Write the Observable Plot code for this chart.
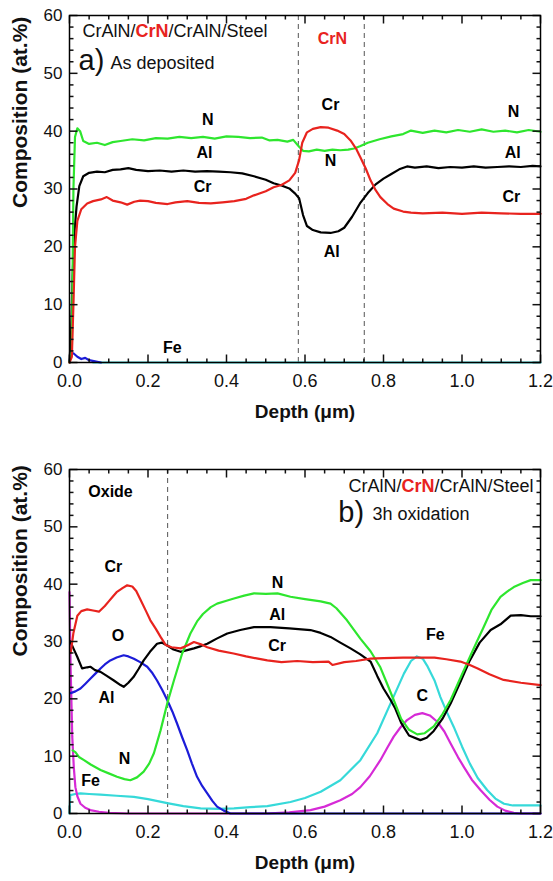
<!DOCTYPE html>
<html><head><meta charset="utf-8">
<script src="https://cdn.jsdelivr.net/npm/d3@7"></script>
<script src="https://cdn.jsdelivr.net/npm/@observablehq/plot@0.6"></script>
<style>
body{margin:0;background:#fff;}
#wrap{position:relative;width:553px;height:881px;overflow:hidden;}
#a{position:absolute;left:0;top:0}
#b{position:absolute;left:0;top:441px}
</style></head><body><div id="wrap"><div id="a"></div><div id="b"></div></div>
<script>
// ---------- DATA: panel a) As deposited  [depth (µm), composition (at.%)] ----------
const aN = [[0,0],[0.006,2],[0.01,30],[0.014,39],[0.02,40.5],[0.027,40],[0.035,38.3],[0.05,37.8],[0.07,38.0],[0.09,37.6],[0.11,38.1],[0.13,38.3],[0.16,38.6],[0.19,38.4],[0.22,38.8],[0.25,38.7],[0.28,39],[0.31,38.8],[0.34,39],[0.37,38.7],[0.40,39.1],[0.43,39],[0.46,38.8],[0.49,38.9],[0.51,38.4],[0.53,38.5],[0.555,38.2],[0.57,38.5],[0.585,37.3],[0.595,36.6],[0.61,36.5],[0.63,36.8],[0.65,36.6],[0.67,36.8],[0.69,36.7],[0.71,36.8],[0.725,37],[0.74,37.4],[0.76,38],[0.79,38.6],[0.82,39.1],[0.85,39.5],[0.87,40.1],[0.9,39.7],[0.93,40.1],[0.96,39.8],[0.99,40.2],[1.02,39.9],[1.05,40.3],[1.08,39.9],[1.11,40.1],[1.14,39.8],[1.17,40.2],[1.2,39.9]];
const aAl = [[0,0],[0.004,5],[0.008,15],[0.012,22],[0.018,27],[0.025,30.5],[0.035,32.2],[0.05,32.8],[0.07,33],[0.09,32.9],[0.11,33.3],[0.13,33.4],[0.15,33.6],[0.17,33.3],[0.2,33.1],[0.23,33.2],[0.26,33],[0.29,33.2],[0.32,33],[0.35,33.1],[0.38,33],[0.41,32.9],[0.44,32.7],[0.47,32.2],[0.5,31.6],[0.52,31],[0.54,30.6],[0.56,30.1],[0.575,29.2],[0.585,28.4],[0.595,25.5],[0.605,23.6],[0.62,22.9],[0.64,22.5],[0.665,22.4],[0.685,22.7],[0.7,23.3],[0.72,25.2],[0.74,27.5],[0.76,29.3],[0.78,30.8],[0.8,31.8],[0.82,32.6],[0.84,33.4],[0.86,33.9],[0.88,33.7],[0.91,33.9],[0.94,33.6],[0.97,33.8],[1.0,33.7],[1.03,33.9],[1.06,33.7],[1.09,33.8],[1.12,33.9],[1.15,33.8],[1.18,34],[1.2,33.9]];
const aCr = [[0,0],[0.006,1],[0.01,10],[0.014,20],[0.02,24.5],[0.03,26.5],[0.045,27.5],[0.06,27.9],[0.08,28.2],[0.095,28.6],[0.11,28],[0.13,27.7],[0.147,27.3],[0.165,27.8],[0.18,28],[0.2,27.9],[0.22,27.6],[0.25,27.4],[0.27,27.7],[0.3,27.9],[0.33,27.6],[0.36,27.5],[0.39,27.7],[0.42,27.9],[0.45,28.3],[0.47,28.9],[0.5,29.6],[0.52,30.3],[0.54,30.7],[0.56,31.5],[0.575,32.8],[0.585,35],[0.593,38],[0.605,39.8],[0.62,40.4],[0.64,40.7],[0.66,40.6],[0.682,40.1],[0.7,39.5],[0.716,38.4],[0.73,37],[0.741,35.5],[0.755,33.5],[0.767,31.5],[0.78,29.8],[0.792,28.6],[0.81,27.4],[0.826,26.6],[0.85,26.1],[0.87,25.9],[0.9,25.8],[0.95,25.9],[1.0,25.7],[1.05,25.9],[1.1,25.8],[1.15,25.7],[1.2,25.7]];
const aFeSurf = [[0,0],[0.003,1.5],[0.01,1.6],[0.02,1],[0.03,0.6],[0.04,0.8],[0.05,0.4],[0.065,0.2],[0.08,0]];
const aFe = [[0.06,0],[1.2,0]];
const aInterfaces = [0.583, 0.751];
const aLabels = [
  {t:"N", x:0.352, y:41.0},{t:"Al", x:0.344, y:35.3},{t:"Cr", x:0.339, y:29.4},
  {t:"Cr", x:0.665, y:43.6},{t:"N", x:0.665, y:33.9},{t:"Al", x:0.668, y:18.3},
  {t:"N", x:1.131, y:42.4},{t:"Al", x:1.129, y:35.4},{t:"Cr", x:1.126, y:27.8},
  {t:"Fe", x:0.262, y:1.6}
];
const aLayerLabel = [{t:"CrN", x:0.670, y:55.0}];

// ---------- DATA: panel b) 3h oxidation ----------
const bCr = [[0.003,28],[0.01,31.5],[0.02,34.5],[0.03,35.3],[0.045,35.6],[0.06,35.4],[0.075,35.2],[0.09,36.2],[0.1,37],[0.11,37.8],[0.12,38.6],[0.135,39.3],[0.147,39.8],[0.16,39.6],[0.17,38.8],[0.18,37.4],[0.195,35.3],[0.206,33.7],[0.22,32.2],[0.232,30.8],[0.245,29.4],[0.26,29],[0.283,28.8],[0.3,29.3],[0.317,29.9],[0.335,29.5],[0.351,29],[0.38,28.4],[0.418,27.9],[0.45,27.4],[0.48,27],[0.504,26.7],[0.54,26.4],[0.58,26.6],[0.62,26.4],[0.66,26.5],[0.67,25.9],[0.7,26.4],[0.73,26.6],[0.767,27],[0.8,27.1],[0.85,27.2],[0.894,27.2],[0.93,27.2],[0.96,26.9],[0.996,26.5],[1.02,25.9],[1.04,25.3],[1.07,24.3],[1.106,23.3],[1.15,22.8],[1.2,22.4]];
const bAl = [[0.002,30],[0.01,28.8],[0.02,27.3],[0.032,25.3],[0.045,25.5],[0.053,25.6],[0.065,25],[0.079,24.7],[0.095,24],[0.113,23.2],[0.13,22.4],[0.138,22.1],[0.15,22.8],[0.163,23.8],[0.176,25.2],[0.189,26.7],[0.205,28.2],[0.223,29.6],[0.235,29.8],[0.249,29.3],[0.265,28.6],[0.283,28.2],[0.3,28.5],[0.317,28.8],[0.335,29.2],[0.351,29.6],[0.375,30.5],[0.402,31.4],[0.435,32],[0.47,32.5],[0.512,32.5],[0.56,32.3],[0.614,32],[0.64,31.5],[0.665,30.8],[0.69,29.8],[0.716,28.8],[0.74,27.8],[0.767,26.5],[0.784,24],[0.8,21.8],[0.818,19.8],[0.83,18.3],[0.845,15.8],[0.865,13.6],[0.894,12.8],[0.91,13.2],[0.928,14.4],[0.95,16.5],[0.971,19.2],[0.995,22.8],[1.02,26.7],[1.045,29.8],[1.073,32],[1.098,33],[1.124,34.5],[1.15,34.6],[1.175,34.4],[1.2,34.4]];
const bN = [[0.008,11],[0.015,10.7],[0.025,9.8],[0.037,9.3],[0.055,8.5],[0.079,7.6],[0.1,7.0],[0.121,6.4],[0.14,6],[0.155,5.8],[0.172,6.3],[0.189,7.3],[0.203,8.7],[0.215,10.5],[0.232,14.5],[0.249,19.2],[0.266,23.2],[0.287,27.9],[0.308,31.4],[0.325,33.5],[0.34,34.8],[0.36,36],[0.376,36.6],[0.4,37.1],[0.419,37.5],[0.445,38],[0.47,38.4],[0.5,38.3],[0.53,38.4],[0.563,37.8],[0.6,37.4],[0.64,37],[0.665,36.6],[0.68,35.8],[0.707,33.7],[0.741,30.5],[0.767,28.3],[0.792,25.5],[0.81,22.5],[0.826,19.8],[0.845,16.5],[0.865,14.6],[0.886,13.8],[0.905,14],[0.928,15.2],[0.95,17.3],[0.971,19.8],[0.995,23.5],[1.02,27.3],[1.038,30],[1.055,32.5],[1.075,35.5],[1.098,37.8],[1.115,38.7],[1.132,39.5],[1.155,40.2],[1.175,40.7],[1.2,40.7]];
const bO = [[0.003,21],[0.015,21.3],[0.028,21.8],[0.04,22.6],[0.053,23.5],[0.066,24.4],[0.079,25.3],[0.09,26],[0.104,26.7],[0.12,27.2],[0.138,27.6],[0.15,27.4],[0.164,27],[0.18,26.4],[0.198,25.6],[0.21,24.6],[0.223,23.2],[0.236,21.6],[0.249,19.8],[0.262,17.8],[0.274,15.7],[0.287,13.3],[0.3,11],[0.312,8.7],[0.325,6.4],[0.338,4.8],[0.351,3.5],[0.364,2.2],[0.376,1.2],[0.393,0.5],[0.41,0],[1.2,0]];
const bFe = [[0,0],[0.002,3.2],[0.015,3.4],[0.028,3.5],[0.05,3.4],[0.079,3.3],[0.12,3.1],[0.164,2.9],[0.2,2.5],[0.249,1.8],[0.29,1.3],[0.334,0.9],[0.38,0.8],[0.419,0.9],[0.46,1.1],[0.504,1.3],[0.563,2],[0.6,2.7],[0.64,3.8],[0.69,5.8],[0.741,9.3],[0.784,14],[0.818,19.2],[0.852,24.4],[0.87,26.6],[0.885,27.4],[0.9,27],[0.911,25.8],[0.93,23.2],[0.945,20.3],[0.962,17.6],[0.979,15.1],[1.0,11.7],[1.02,8.7],[1.04,6.2],[1.064,4.1],[1.085,2.6],[1.107,1.7],[1.13,1.4],[1.158,1.4],[1.2,1.4]];
const bC = [[0,38.6],[0.003,25],[0.007,13.4],[0.011,8],[0.015,4.6],[0.02,3],[0.028,1.7],[0.04,1],[0.053,0.6],[0.075,0.3],[0.1,0.1],[0.15,0],[0.5,0],[0.56,0.2],[0.614,0.6],[0.65,1.2],[0.69,2.3],[0.72,3.4],[0.741,4.6],[0.765,6.5],[0.792,9.3],[0.81,11.5],[0.826,13.4],[0.843,15],[0.86,16.3],[0.88,17.2],[0.899,17.5],[0.918,17.1],[0.937,16],[0.955,14.3],[0.971,12.2],[0.99,9.8],[1.005,8.1],[1.025,5.9],[1.047,4.1],[1.07,2.4],[1.09,1.2],[1.11,0.5],[1.132,0.1],[1.15,0],[1.2,0]];
const bInterfaces = [0.25];
const bLabels = [
  {t:"Oxide", x:0.1045, y:55.2},{t:"Cr", x:0.112, y:42.1},
  {t:"N", x:0.530, y:39.3},{t:"Al", x:0.529, y:33.7},{t:"Cr", x:0.529, y:28.3},
  {t:"O", x:0.1236, y:30.1},{t:"Al", x:0.094, y:19.2},{t:"N", x:0.140, y:8.6},
  {t:"Fe", x:0.0535, y:4.8},{t:"Fe", x:0.932, y:30.2},{t:"C", x:0.8986, y:19.6}
];

// ---------- axes ----------
const xDomain = [0, 1.2], yDomain = [0, 60];
const xMajor = [0, 0.2, 0.4, 0.6, 0.8, 1.0, 1.2];
const xMinor = d3.range(0, 25).filter(i => i % 4).map(i => i * 0.05);
const yMajor = [0, 10, 20, 30, 40, 50, 60];
const yMinor = d3.range(0, 61, 2).filter(v => v % 10);
const STACK = "CrAlN/CrN/CrAlN/Steel";

// ---------- styles ----------
const C = {N:"#2ee62e", Al:"#000000", Cr:"#e8231e", O:"#1c1cd8", Fe:"#36d9d9", C:"#d62ad6", FeSurf:"#1c1cd8"};
const FONT = "'Liberation Sans', Arial, Helvetica, sans-serif";
const W = 553, ML = 69, MR = 13;

// inward frame ticks (tick length in px converted to data units of each scale)
function frameMarks(innerH) {
  const innerW = W - ML - MR, sw = 1.5;
  const ty = px => px * (yDomain[1] - yDomain[0]) / innerH;
  const tx = px => px * (xDomain[1] - xDomain[0]) / innerW;
  const vt = (vals, len, edge) => Plot.link(vals, {x1: d => d, x2: d => d, y1: edge, y2: edge === yDomain[0] ? edge + ty(len) : edge - ty(len), stroke: "#111", strokeWidth: sw});
  const ht = (vals, len, edge) => Plot.link(vals, {y1: d => d, y2: d => d, x1: edge, x2: edge === xDomain[0] ? edge + tx(len) : edge - tx(len), stroke: "#111", strokeWidth: sw});
  return [
    vt(xMajor, 8, yDomain[0]), vt(xMinor, 4, yDomain[0]), vt(xMajor, 8, yDomain[1]), vt(xMinor, 4, yDomain[1]),
    ht(yMajor, 8, xDomain[0]), ht(yMinor, 4, xDomain[0]), ht(yMajor, 8, xDomain[1]), ht(yMinor, 4, xDomain[1]),
    Plot.axisX({ticks: xMajor, tickSize: 0, tickPadding: 12, tickFormat: d3.format(".1f"), fontSize: 18, label: null}),
    Plot.axisY({ticks: yMajor, tickSize: 0, tickPadding: 7, fontSize: 17, label: null}),
  ];
}
function curve(data, color, w = 2.2) {
  return Plot.line(data, {x: d => d[0], y: d => d[1], stroke: color, strokeWidth: w, strokeLinejoin: "round"});
}
function titles(ylabelDy) {
  return [
    Plot.text(["Composition (at.%)"], {text: d => d, frameAnchor: "left", dx: -49, dy: ylabelDy, rotate: -90, fontWeight: "bold", fontSize: 21}),
    Plot.text(["Depth (\u03bcm)"], {text: d => d, frameAnchor: "bottom", dy: 55, lineAnchor: "bottom", fontWeight: "bold", fontSize: 19}),
  ];
}

function colorStack(svg) {
  d3.select(svg).selectAll("text").filter(function(){ return this.textContent === STACK; }).each(function(){
    const t = d3.select(this); t.text(null);
    t.append("tspan").text("CrAlN/");
    t.append("tspan").attr("fill", C.Cr).attr("font-weight", "bold").text("CrN");
    t.append("tspan").text("/CrAlN/Steel");
  });
}

const innerA = 347;
const plotA = Plot.plot({
  width: W, height: 430, marginTop: 15, marginBottom: 68, marginLeft: ML, marginRight: MR,
  style: {fontFamily: FONT, fontSize: "17px", color: "#111", background: "white", overflow: "visible"},
  x: {domain: xDomain}, y: {domain: yDomain},
  marks: [
    Plot.ruleX(aInterfaces, {stroke: "#555", strokeDasharray: "5,4", strokeWidth: 1}),
    curve(aFe, C.Fe), curve(aFeSurf, C.FeSurf), curve(aAl, C.Al), curve(aN, C.N), curve(aCr, C.Cr),
    ...frameMarks(innerA),
    Plot.frame({stroke: "black", strokeWidth: 1.5}),
    Plot.text(aLabels, {x: "x", y: "y", text: "t", fontWeight: "bold", fontSize: 16, lineAnchor: "bottom", fill: "black"}),
    Plot.text(aLayerLabel, {x: "x", y: "y", text: "t", fontWeight: "bold", fontSize: 16, lineAnchor: "bottom", fill: C.Cr}),
    Plot.text([STACK], {text: d => d, x: 0.033, y: 56.2, textAnchor: "start", lineAnchor: "bottom", fontSize: 18}),
    Plot.text(["a)"], {text: d => d, x: 0.023, y: 50.5, textAnchor: "start", lineAnchor: "bottom", fontSize: 29}),
    Plot.text(["As deposited"], {text: d => d, x: 0.1045, y: 50.8, textAnchor: "start", lineAnchor: "bottom", fontSize: 18}),
    ...titles(19),
  ]
});
colorStack(plotA);
document.getElementById("a").appendChild(plotA);

const innerB = 344;
const plotB = Plot.plot({
  width: W, height: 440, marginTop: 28, marginBottom: 68, marginLeft: ML, marginRight: MR,
  style: {fontFamily: FONT, fontSize: "17px", color: "#111", background: "white", overflow: "visible"},
  x: {domain: xDomain}, y: {domain: yDomain},
  marks: [
    Plot.ruleX(bInterfaces, {stroke: "#555", strokeDasharray: "5,4", strokeWidth: 1}),
    curve(bFe, C.Fe), curve(bC, C.C), curve(bO, C.O), curve(bAl, C.Al), curve(bN, C.N), curve(bCr, C.Cr),
    ...frameMarks(innerB),
    Plot.frame({stroke: "black", strokeWidth: 1.5}),
    Plot.text(bLabels, {x: "x", y: "y", text: "t", fontWeight: "bold", fontSize: 16, lineAnchor: "bottom", fill: "black"}),
    Plot.text([STACK], {text: d => d, x: 1.182, y: 56.0, textAnchor: "end", lineAnchor: "bottom", fontSize: 18}),
    Plot.text(["b)"], {text: d => d, x: 0.685, y: 50.8, textAnchor: "start", lineAnchor: "bottom", fontSize: 29}),
    Plot.text(["3h oxidation"], {text: d => d, x: 0.772, y: 51.2, textAnchor: "start", lineAnchor: "bottom", fontSize: 18}),
    ...titles(15),
  ]
});
colorStack(plotB);
document.getElementById("b").appendChild(plotB);
</script></body></html>
